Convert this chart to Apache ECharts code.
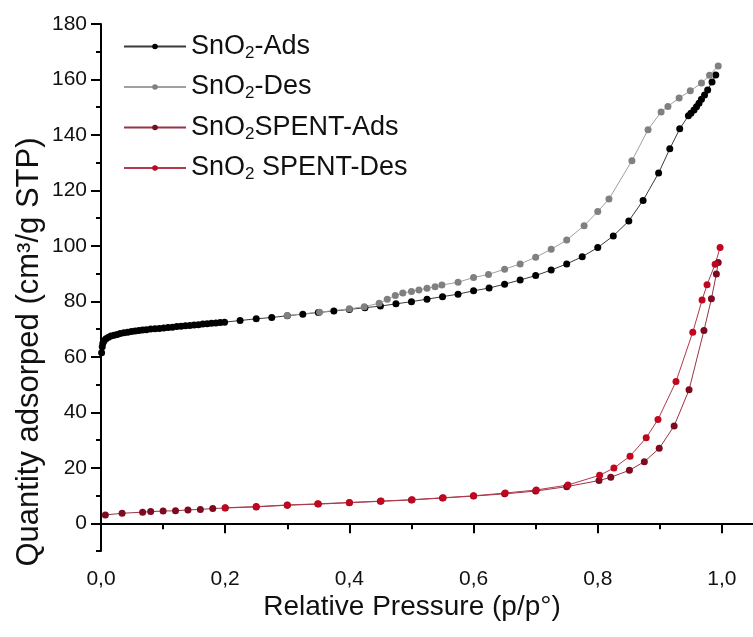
<!DOCTYPE html>
<html>
<head>
<meta charset="utf-8">
<script src="https://cdn.jsdelivr.net/npm/echarts@6/dist/echarts.min.js"></script>
<style>
  html, body { margin: 0; padding: 0; background: #fff; }
  #chart { width: 753px; height: 637px; }
</style>
</head>
<body>
<div id="chart"></div>
<script>
// N2 physisorption isotherms, [p/p0, quantity adsorbed (cm3/g STP)]
const sno2Ads = [
  [0.001, 61.5], [0.002, 63.6], [0.003, 64.9], [0.005, 65.8], [0.008, 66.5],
  [0.012, 67.1], [0.016, 67.5], [0.021, 67.8], [0.026, 68.1], [0.031, 68.4],
  [0.037, 68.7], [0.043, 68.9], [0.049, 69.1], [0.055, 69.3], [0.061, 69.5],
  [0.067, 69.7], [0.073, 69.8], [0.080, 70.0], [0.087, 70.1], [0.094, 70.2],
  [0.101, 70.4], [0.108, 70.6], [0.115, 70.7], [0.122, 70.9], [0.129, 71.0],
  [0.136, 71.2], [0.143, 71.3], [0.150, 71.5], [0.157, 71.6], [0.164, 71.8],
  [0.171, 71.9], [0.178, 72.1], [0.185, 72.2], [0.192, 72.4], [0.199, 72.5],
  [0.224, 73.1], [0.250, 73.7], [0.275, 74.2], [0.300, 74.8], [0.325, 75.4],
  [0.350, 76.0], [0.375, 76.5], [0.400, 77.1], [0.425, 77.7], [0.450, 78.3],
  [0.475, 79.1], [0.500, 79.9], [0.525, 80.8], [0.550, 81.7], [0.575, 82.6],
  [0.600, 83.8], [0.625, 84.8], [0.650, 86.2], [0.675, 87.7], [0.700, 89.3],
  [0.725, 91.3], [0.750, 93.5], [0.775, 96.1], [0.800, 99.4], [0.825, 103.6],
  [0.850, 109.0], [0.873, 116.4], [0.898, 126.3], [0.916, 135.0], [0.932, 142.2],
  [0.946, 146.9], [0.950, 147.8], [0.955, 149.0], [0.959, 150.2], [0.963, 151.4],
  [0.967, 152.9], [0.972, 154.4], [0.977, 156.2], [0.984, 159.1], [0.990, 161.6]
];
const sno2Des = [
  [0.994, 164.9], [0.980, 161.5], [0.967, 158.7], [0.949, 155.9], [0.931, 153.3],
  [0.913, 150.3], [0.902, 148.3], [0.881, 141.9], [0.855, 130.7], [0.818, 116.9],
  [0.800, 112.4], [0.778, 107.3], [0.750, 102.1], [0.725, 98.8], [0.700, 95.9],
  [0.675, 93.5], [0.650, 91.6], [0.624, 89.7], [0.600, 88.6], [0.575, 86.9],
  [0.549, 85.9], [0.538, 85.3], [0.525, 84.7], [0.512, 84.1], [0.500, 83.6],
  [0.486, 83.0], [0.474, 82.1], [0.461, 80.8], [0.448, 79.3], [0.424, 78.1],
  [0.400, 77.3], [0.352, 76.1], [0.300, 74.9]
];
const spentAds = [
  [0.007, 3.0], [0.034, 3.6], [0.067, 4.0], [0.080, 4.2], [0.100, 4.4],
  [0.120, 4.5], [0.140, 4.8], [0.160, 5.0], [0.180, 5.3], [0.200, 5.5],
  [0.250, 5.9], [0.300, 6.5], [0.350, 6.9], [0.400, 7.4], [0.450, 7.9],
  [0.500, 8.4], [0.550, 9.1], [0.600, 9.8], [0.650, 10.6], [0.700, 11.6],
  [0.750, 13.2], [0.802, 15.4], [0.821, 16.6], [0.851, 19.1], [0.875, 22.2],
  [0.899, 27.0], [0.923, 35.1], [0.947, 48.1], [0.971, 69.5], [0.983, 80.9],
  [0.991, 89.9], [0.994, 94.0]
];
const spentDes = [
  [0.997, 99.4], [0.989, 93.4], [0.976, 86.0], [0.968, 80.5], [0.953, 68.9],
  [0.926, 51.1], [0.897, 37.4], [0.878, 30.8], [0.852, 24.2], [0.826, 19.9],
  [0.803, 17.3], [0.752, 13.8], [0.701, 12.0], [0.651, 10.9], [0.600, 9.9],
  [0.551, 9.2], [0.501, 8.5], [0.451, 8.0], [0.400, 7.5], [0.349, 7.0],
  [0.300, 6.6], [0.250, 6.0], [0.200, 5.6]
];

const seriesNames = ['SnO2-Ads', 'SnO2-Des', 'SnO2SPENT-Ads', 'SnO2 SPENT-Des'];
const legendRich = {
  'SnO2-Ads': '{t|SnO}{s|2}{t|-Ads}',
  'SnO2-Des': '{t|SnO}{s|2}{t|-Des}',
  'SnO2SPENT-Ads': '{t|SnO}{s|2}{t|SPENT-Ads}',
  'SnO2 SPENT-Des': '{t|SnO}{s|2}{t| SPENT-Des}'
};

const xMajorTicks = [0, 0.2, 0.4, 0.6, 0.8, 1.0];
const xMinorTicks = [0.1, 0.3, 0.5, 0.7, 0.9];
const yMajorTicks = [0, 20, 40, 60, 80, 100, 120, 140, 160, 180];
const yMinorTicks = [-10, 10, 30, 50, 70, 90, 110, 130, 150, 170];

const xTitle = 'Relative Pressure (p/p°)';
const yTitle = 'Quantity adsorped (cm³/g STP)';

const FONT = 'Arial, "Liberation Sans", sans-serif';
const axisLine = { show: true, lineStyle: { color: '#000', width: 2 } };

function lineSeries(name, data, markerColor, lineColor) {
  return {
    name: name,
    type: 'line',
    data: data,
    xAxisIndex: 0,
    yAxisIndex: 0,
    symbol: 'circle',
    symbolSize: 7,
    showSymbol: true,
    itemStyle: { color: markerColor },
    lineStyle: { color: lineColor, width: 1 },
    emphasis: { disabled: true }
  };
}

const chart = echarts.init(document.getElementById('chart'), null, { renderer: 'canvas' });
chart.setOption({
  animation: false,
  backgroundColor: '#fff',
  grid: { left: 101, top: 24, right: -3, bottom: 86, containLabel: false },
  xAxis: [
    {
      type: 'value', min: 0, max: 1.05, position: 'bottom',
      axisLine: axisLine,
      axisTick: { show: true, customValues: xMajorTicks, length: 10, inside: false, lineStyle: { color: '#000', width: 2 } },
      axisLabel: {
        customValues: xMajorTicks, margin: 18, color: '#111', fontFamily: FONT, fontSize: 21,
        formatter: v => v.toFixed(1).replace('.', ',')
      },
      splitLine: { show: false }
    },
    {
      type: 'value', min: 0, max: 1.05, position: 'bottom',
      axisLine: { show: false },
      axisTick: { show: true, customValues: xMinorTicks, length: 6, lineStyle: { color: '#000', width: 2 } },
      axisLabel: { show: false },
      splitLine: { show: false }
    }
  ],
  yAxis: [
    {
      type: 'value', min: -10, max: 180, position: 'left',
      axisLine: axisLine,
      axisTick: { show: true, customValues: yMajorTicks, length: 10, lineStyle: { color: '#000', width: 2 } },
      axisLabel: {
        customValues: yMajorTicks, margin: 14, color: '#111', fontFamily: FONT, fontSize: 21,
        formatter: v => String(v)
      },
      splitLine: { show: false }
    },
    {
      type: 'value', min: -10, max: 180, position: 'left',
      axisLine: { show: false },
      axisTick: { show: true, customValues: yMinorTicks, length: 5, lineStyle: { color: '#000', width: 2 } },
      axisLabel: { show: false },
      splitLine: { show: false }
    }
  ],
  legend: {
    orient: 'vertical',
    left: 118,
    top: 28,
    itemWidth: 62,
    itemHeight: 7,
    itemGap: 12,
    data: seriesNames,
    formatter: name => legendRich[name],
    textStyle: {
      color: '#111',
      rich: {
        t: { fontFamily: FONT, fontSize: 27, lineHeight: 30, color: '#111' },
        s: { fontFamily: FONT, fontSize: 17, verticalAlign: 'bottom', color: '#111' }
      }
    }
  },
  graphic: [
    {
      type: 'text', x: 412, y: 607,
      style: { text: xTitle, fontFamily: FONT, fontSize: 28, fill: '#111', align: 'center', verticalAlign: 'middle' }
    },
    {
      type: 'text', x: 29, y: 352, rotation: Math.PI / 2,
      style: { text: yTitle, fontFamily: FONT, fontSize: 31, fill: '#111', align: 'center', verticalAlign: 'middle' }
    }
  ],
  series: [
    lineSeries(seriesNames[0], sno2Ads, '#000000', '#3a3a3a'),
    lineSeries(seriesNames[1], sno2Des, '#808080', '#a0a0a0'),
    lineSeries(seriesNames[2], spentAds, '#7e0a1f', '#9a3346'),
    lineSeries(seriesNames[3], spentDes, '#c0071f', '#b03a4e')
  ]
});
</script>
</body>
</html>
